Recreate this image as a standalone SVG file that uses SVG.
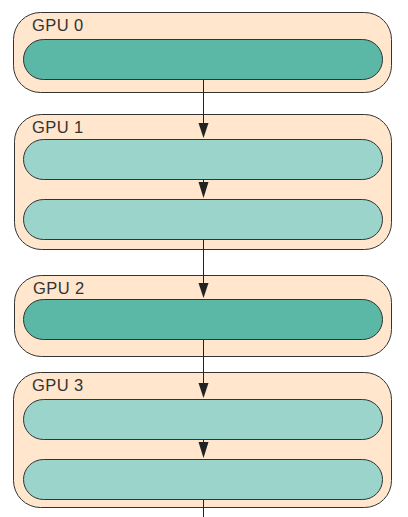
<svg xmlns="http://www.w3.org/2000/svg" width="408" height="517" viewBox="0 0 408 517">
<style>
.gpu{fill:#FFE6CC;stroke:#333;stroke-width:1}
.dark{fill:#5BB8A7;stroke:#333;stroke-width:1}
.light{fill:#9AD4CA;stroke:#333;stroke-width:1}
.lbl{font-family:"Liberation Sans",Arial,sans-serif;font-size:16.5px;letter-spacing:0.4px;fill:#333}
.edge{stroke:#222;stroke-width:1;fill:none}
.head{fill:#222}
</style>
<rect width="408" height="517" fill="#fff"/>
<g id="gpu0">
<rect class="gpu" x="13.5" y="12.5" width="378" height="80" rx="27"/>
<text class="lbl" x="32" y="31">GPU 0</text>
<rect id="gpu0_b0" class="dark" x="23.5" y="39.5" width="359" height="40" rx="20"/>
</g>
<g id="gpu1">
<rect class="gpu" x="14.5" y="114.5" width="377" height="135" rx="27"/>
<text class="lbl" x="32" y="133">GPU 1</text>
<rect id="gpu1_b0" class="light" x="23.5" y="139.5" width="359" height="40" rx="20"/>
<rect id="gpu1_b1" class="light" x="23.5" y="199.5" width="359" height="40" rx="20"/>
</g>
<g id="gpu2">
<rect class="gpu" x="14.5" y="275.5" width="377" height="81" rx="27"/>
<text class="lbl" x="33" y="294">GPU 2</text>
<rect id="gpu2_b0" class="dark" x="23.5" y="299.5" width="359" height="40" rx="20"/>
</g>
<g id="gpu3">
<rect class="gpu" x="13.5" y="372.5" width="378" height="135" rx="27"/>
<text class="lbl" x="32" y="391">GPU 3</text>
<rect id="gpu3_b0" class="light" x="23.5" y="399.5" width="359" height="40" rx="20"/>
<rect id="gpu3_b1" class="light" x="23.5" y="459.5" width="359" height="40" rx="20"/>
</g>
<g id="connectors">
<line class="edge" x1="203.5" y1="80" x2="203.5" y2="125"/>
<path class="head" d="M198.5,123 L208.5,123 L203.5,138 Z"/>
<line class="edge" x1="203.5" y1="180" x2="203.5" y2="184"/>
<path class="head" d="M198.5,182 L208.5,182 L203.5,198 Z"/>
<line class="edge" x1="203.5" y1="240" x2="203.5" y2="285"/>
<path class="head" d="M198.5,283 L208.5,283 L203.5,298 Z"/>
<line class="edge" x1="203.5" y1="340" x2="203.5" y2="385"/>
<path class="head" d="M198.5,383 L208.5,383 L203.5,398 Z"/>
<line class="edge" x1="203.5" y1="440" x2="203.5" y2="444"/>
<path class="head" d="M198.5,442 L208.5,442 L203.5,458 Z"/>
<line class="edge" x1="203.5" y1="500" x2="203.5" y2="517"/>
</g>
</svg>
